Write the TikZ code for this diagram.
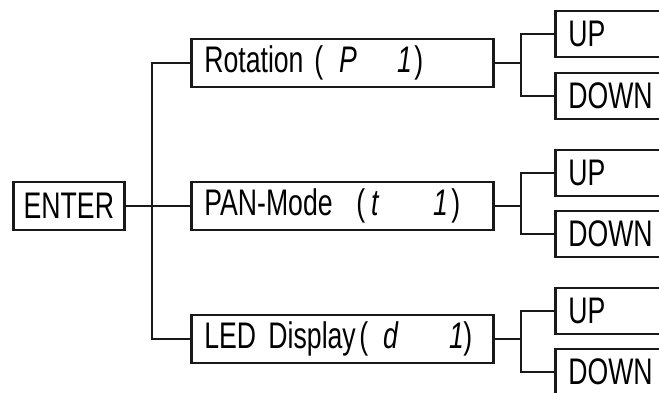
\documentclass[tikz,border=0pt]{standalone}
\usepackage{fontspec}
\setmainfont[FakeStretch=0.72]{Liberation Sans}
\usetikzlibrary{positioning}
\newcommand{\lcd}[1]{{\itshape #1}}
\newcommand{\seg}[2]{\makebox[#1pt][l]{#2}}

\begin{document}
\begin{tikzpicture}[x=1pt,y=-1pt,
  menubox/.style={draw=black!90,line width=2.7pt,rectangle,anchor=west,inner xsep=13pt,inner ysep=0pt,minimum height=48pt,align=left,font=\fontsize{37}{40}\selectfont},
  keybox/.style={menubox,minimum height=46pt,text width=110pt},
  link/.style={draw=black!90,line width=2.7pt}]
\useasboundingbox (0,0) rectangle (659,392);
\clip (0,0) rectangle (659,392);
\node[menubox,inner xsep=0pt,minimum width=111pt,align=center] (enter) at (12,206) {ENTER};
\node[menubox,text width=276pt] (rot) at (190,63) {\seg{110}{Rotation}\seg{25}{(}\seg{58}{\lcd{P}}\seg{17}{\lcd{1}})};
\node[menubox,text width=276pt] (pan) at (190,206) {\seg{152}{PAN-Mode}\seg{15}{(}\seg{62}{\lcd{t}}\seg{18}{\lcd{1}})};
\node[menubox,text width=276pt] (led) at (190,339) {\seg{155}{LED Display}\seg{24}{(}\seg{66}{\lcd{d}}\seg{14}{\lcd{1}})};
\node[keybox] (up_rot) at (554,34) {UP};
\node[keybox] (down_rot) at (554,96) {DOWN};
\node[keybox] (up_pan) at (554,173) {UP};
\node[keybox] (down_pan) at (554,234) {DOWN};
\node[keybox] (up_led) at (554,311) {UP};
\node[keybox] (down_led) at (554,372) {DOWN};
\coordinate (trunk) at (152,206);
\coordinate (j_rot) at (521,63);
\coordinate (j_pan) at (521,206);
\coordinate (j_led) at (521,339);
\draw[link] (enter.east)--(pan.west);
\draw[link] (rot.west) -| (trunk) |- (led.west);
\draw[link] (rot.east)--(j_rot);
\draw[link] (up_rot.west) -| (j_rot) |- (down_rot.west);
\draw[link] (pan.east)--(j_pan);
\draw[link] (up_pan.west) -| (j_pan) |- (down_pan.west);
\draw[link] (led.east)--(j_led);
\draw[link] (up_led.west) -| (j_led) |- (down_led.west);
\end{tikzpicture}
\end{document}
